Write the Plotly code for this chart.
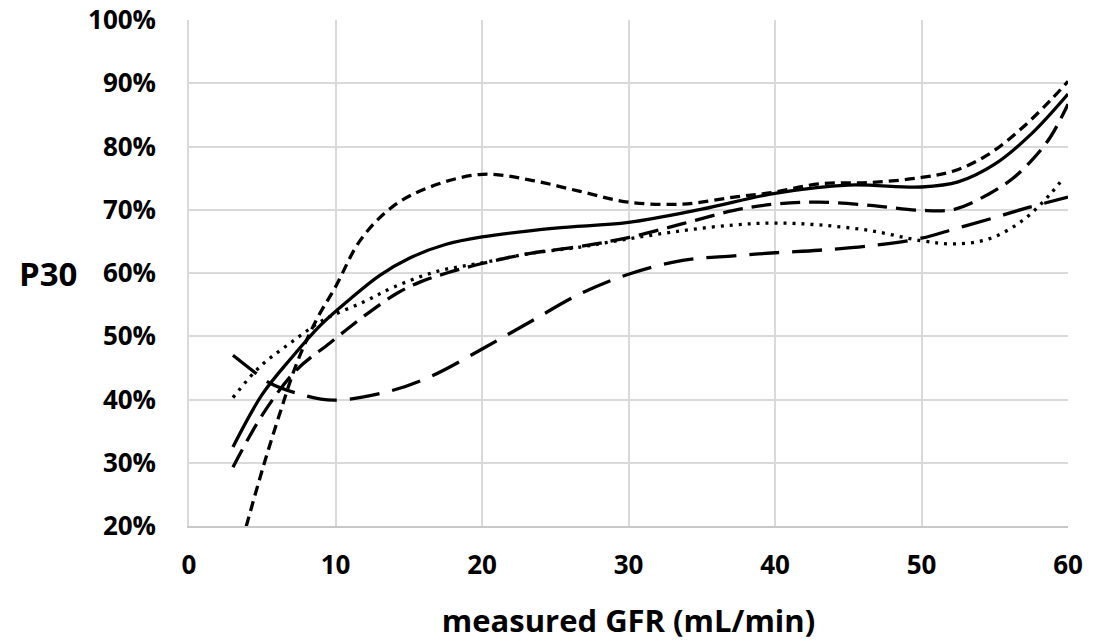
import plotly.graph_objects as go

# ---- data (measured GFR in mL/min, P30 in %) ----
x_solid = [3, 5, 7, 9, 11, 13, 15, 17.5, 20, 25, 30, 35, 40, 45, 50, 52.5, 55, 57.5, 60]
y_solid = [32.5, 40.8, 46.6, 51.8, 55.9, 59.6, 62.3, 64.5, 65.7, 67.1, 68.0, 70.1, 72.6, 73.9, 73.6, 74.4, 77.2, 82.0, 88.3]

x_short = [3.9, 5.07, 6.2, 7.35, 8.7, 10, 11.7, 13.9, 16.45, 20, 23.3, 26.7, 30, 33.7, 37.2, 40, 43, 46.5, 50, 52.3, 54.6, 56.9, 58.8, 60]
y_short = [19.9, 29.4, 37.8, 45.7, 52.6, 57.8, 65.2, 70.5, 73.6, 75.6, 74.7, 72.9, 71.2, 70.9, 72.0, 72.8, 74.1, 74.3, 75.1, 76.2, 78.8, 83.0, 87.3, 90.3]

x_med = [3, 5.07, 7.35, 9.6, 11.9, 14.2, 15.8, 17.6, 20, 23.3, 26.7, 30, 33.7, 37.2, 40, 43, 46.5, 50, 52.3, 54.6, 56.2, 57.6, 58.8, 60]
y_med = [29.3, 37.8, 44.7, 48.9, 53.1, 56.8, 58.6, 60.0, 61.5, 63.1, 64.2, 65.6, 67.8, 69.9, 70.9, 71.2, 70.7, 69.9, 70.1, 72.5, 74.9, 78.0, 81.5, 86.7]

x_dot = [3, 4.85, 6.9, 9.2, 11.9, 14, 17, 20, 23.3, 26.7, 30, 33.7, 37.2, 40, 43, 46.5, 50, 52.3, 54.6, 56.9, 58.8, 59.7]
y_dot = [40.3, 45.2, 48.9, 52.6, 55.4, 57.8, 60.3, 61.6, 63.1, 64.1, 65.4, 66.7, 67.6, 67.9, 67.6, 66.7, 65.1, 64.6, 65.4, 68.3, 72.5, 75.1]

x_long = [3, 4.6, 5.5, 7.35, 9.85, 13.5, 16.45, 20.1, 23.3, 26.7, 30, 33.7, 37.2, 40, 43, 46.5, 50, 52.3, 54.6, 56.9, 60]
y_long = [47.0, 44.1, 42.6, 41.0, 39.9, 41.2, 43.6, 48.1, 52.3, 56.7, 59.8, 62.0, 62.7, 63.2, 63.6, 64.3, 65.5, 67.0, 68.5, 70.1, 72.0]

x_ticks = [0, 10, 20, 30, 40, 50, 60]
y_ticks = [20, 30, 40, 50, 60, 70, 80, 90, 100]
y_tick_labels = [f"{v}%" for v in y_ticks]

series = [
    (x_long, y_long, "30px,13px"),
    (x_dot, y_dot, "3px,6px"),
    (x_med, y_med, "20px,9px"),
    (x_short, y_short, "10px,6px"),
    (x_solid, y_solid, "solid"),
]

fig = go.Figure()
for xs, ys, dash in series:
    fig.add_trace(go.Scatter(
        x=xs, y=ys, mode="lines",
        line=dict(color="black", width=3.3, dash=dash, shape="spline", smoothing=1),
        showlegend=False, hoverinfo="skip",
    ))

font_tick = dict(family="Open Sans", size=26, color="black", weight="bold")
font_title = dict(family="Open Sans", size=31, color="black", weight="bold")
font_p30 = dict(family="Open Sans", size=33, color="black", weight="bold")

fig.update_layout(
    width=1114, height=641,
    margin=dict(l=189, r=46, t=20, b=115, autoexpand=False),
    paper_bgcolor="white", plot_bgcolor="white",
    xaxis=dict(
        range=[0, 60], tickvals=x_ticks, showgrid=True, gridcolor="#d9d9d9", gridwidth=1.5,
        showline=True, linecolor="#c8c8c8", linewidth=1.5, zeroline=False,
        tickfont=font_tick, ticks="", ticklabelstandoff=15, automargin=False,
        ticklabeloverflow="allow",
        title=dict(text="measured GFR (mL/min)", font=font_title, standoff=38),
    ),
    yaxis=dict(
        range=[20, 100], tickvals=y_ticks, ticktext=y_tick_labels, showgrid=True,
        gridcolor="#d9d9d9", gridwidth=1.5,
        showline=True, linecolor="#d9d9d9", linewidth=1.5, zeroline=False,
        tickfont=font_tick, ticks="", ticklabelstandoff=26, automargin=False,
        ticklabeloverflow="allow",
    ),
    annotations=[dict(
        text="P30", xref="paper", yref="y", x=(47.5 - 189) / 879, y=60,
        xanchor="center", yanchor="middle", showarrow=False, font=font_p30,
    )],
)

fig.write_html(
    "out.html",
    config={"displayModeBar": False},
    post_script="document.body.style.margin='0';document.body.style.overflow='hidden';",
)
